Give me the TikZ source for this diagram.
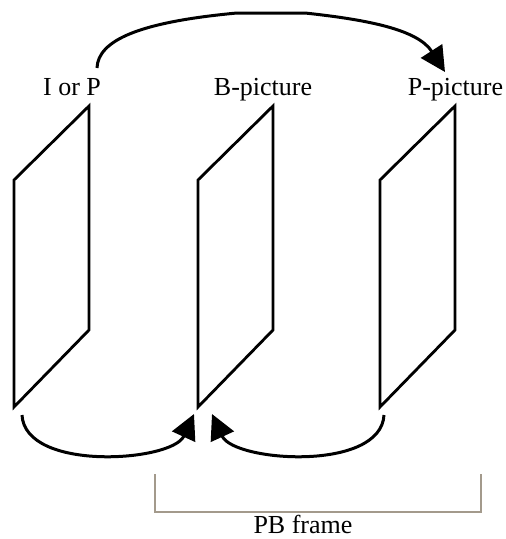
\documentclass[tikz,border=0pt]{standalone}
\usepackage{fontspec}
\setmainfont{Liberation Serif}
\usetikzlibrary{arrows.meta}
\definecolor{bracketgray}{HTML}{A39A8C}
\begin{document}
\begin{tikzpicture}[x=1pt,y=-1pt,
  frameline/.style={line width=2.8pt,line join=miter},
  flow/.style={line width=3pt,-{Triangle[length=25pt,width=25pt]}},
  label/.style={anchor=base,inner sep=0pt,font=\fontsize{26}{30}\selectfont},
  bracket/.style={draw=bracketgray,line width=2.2pt}]
\useasboundingbox (0,0) rectangle (506,539);

% picture planes drawn as slanted parallelograms
\foreach \dx in {0,184,366}{
  \draw[frameline] (14+\dx,180) -- (89+\dx,106) -- (89+\dx,330) -- (14+\dx,407) -- cycle;
}

% picture labels
\node[label] (iorp) at (72,95) {I or P};
\node[label] (bpic) at (263,95) {B-picture};
\node[label] (ppic) at (455.5,95) {P-picture};

% end points of the prediction arrows
\coordinate (fwdstart) at (97,68);
\coordinate (fwdend) at (445,72);
\coordinate (lstart) at (22,415);
\coordinate (lend) at (194,414);
\coordinate (rstart) at (384,415);
\coordinate (rend) at (212,414);

% forward prediction from the I/P picture to the P-picture
\draw[flow] (fwdstart) .. controls (98,40) and (140,22) .. (237,13)
  -- (305,13) .. controls (370,20) and (418,30) .. (fwdend);

% bidirectional prediction into the B-picture
\draw[flow] (lstart) .. controls (25,472) and (172,462) .. (lend);
\draw[flow] (rstart) .. controls (381,472) and (234,462) .. (rend);

% bracket marking the PB frame
\coordinate (bl) at (155,474);
\coordinate (br) at (481,474);
\draw[bracket] (bl) -- (155,512) -- (481,512) -- (br);
\node[label] (pbframe) at (303,533) {PB frame};
\end{tikzpicture}
\end{document}
